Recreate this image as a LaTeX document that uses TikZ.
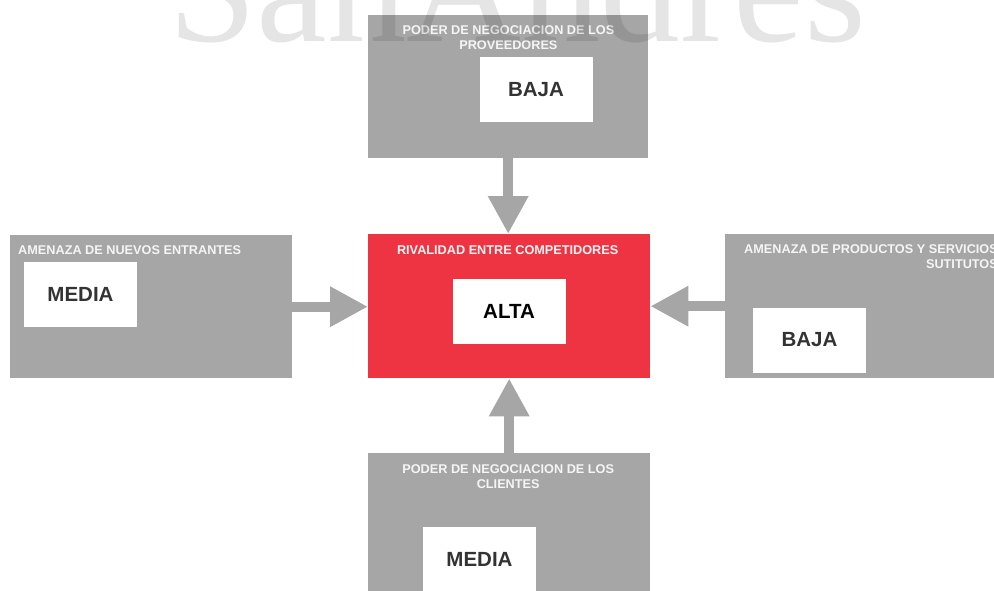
\documentclass[tikz,border=0pt]{standalone}
\usepackage{fontspec}
\setmainfont{Liberation Sans}
\newfontfamily\markfont{Liberation Serif}
\usetikzlibrary{arrows.meta,positioning,calc}
\definecolor{forcegray}{HTML}{A6A6A6}
\definecolor{rivalred}{HTML}{EE3442}
\definecolor{leveltext}{HTML}{333333}
\tikzset{
  force/.style={rectangle, fill=forcegray, anchor=north west, inner sep=0pt, minimum width=282pt, minimum height=144pt},
  rival/.style={force, fill=rivalred},
  title/.style={inner sep=0pt, text=white!96!black, font=\bfseries\fontsize{12.7}{15}\selectfont},
  level/.style={rectangle, fill=white, inner sep=0pt, minimum width=113pt, minimum height=65pt, text=leveltext, font=\bfseries\fontsize{20.5}{24}\selectfont},
  push/.style={draw=forcegray, line width=10pt, -{Triangle[length=38pt, width=38pt]}}
}

\begin{document}
\begin{tikzpicture}[x=1pt, y=-1pt]
  \useasboundingbox (0,0) rectangle (994,590);
  \clip (0,0) rectangle (994,590);

  % the five forces
  \node[force, minimum width=280pt, minimum height=143pt] (prov) at (368,15) {};
  \node[force, minimum height=143pt] (entr) at (10,235) {};
  \node[rival] (rivalry) at (368,234) {};
  \node[force, minimum width=280pt] (subst) at (725,234) {};
  \node[force, minimum height=150pt] (client) at (368,453) {};

  % titles
  \node[title, align=center, anchor=north] (prov-title) at ([xshift=-140pt, yshift=-10pt]prov.north east) {PODER DE NEGOCIACION DE LOS\\PROVEEDORES};
  \node[title, anchor=north west] (entr-title) at ([xshift=8pt, yshift=-10pt]entr.north west) {AMENAZA DE NUEVOS ENTRANTES};
  \node[title, anchor=north] (rival-title) at ([xshift=-1.5pt, yshift=-11pt]rivalry.north) {RIVALIDAD ENTRE COMPETIDORES};
  \node[title, align=right, anchor=north east] (subst-title) at ([xshift=273pt, yshift=-10pt]subst.north west) {AMENAZA DE PRODUCTOS Y SERVICIOS\\SUTITUTOS};
  \node[title, align=center, anchor=north] (client-title) at ([xshift=-1pt, yshift=-11pt]client.north) {PODER DE NEGOCIACION DE LOS\\CLIENTES};

  % levels
  \node[level] (prov-level) at (536,89.5) {BAJA};
  \node[level] (entr-level) at (80.5,294) {MEDIA};
  \node[level, text=black] (rival-level) at (509,311) {ALTA};
  \node[level] (subst-level) at (809.5,340) {BAJA};
  \node[level] (client-level) at (479.5,559.5) {MEDIA};

  % arrows into the rivalry
  \draw[push] (prov.south) -- (prov.south |- rivalry.north);
  \draw[push] (entr.east) -- (entr.east -| rivalry.west);
  \draw[push] (subst.west) -- (subst.west -| rivalry.east);
  \draw[push] (client.north) -- (client.north |- rivalry.south);

  % watermark
  \node[anchor=base west, inner sep=0pt, text=black, text opacity=0.1, font=\markfont\fontsize{159}{159}\selectfont] (mark) at (168,41) {SanAndres};
\end{tikzpicture}
\end{document}
